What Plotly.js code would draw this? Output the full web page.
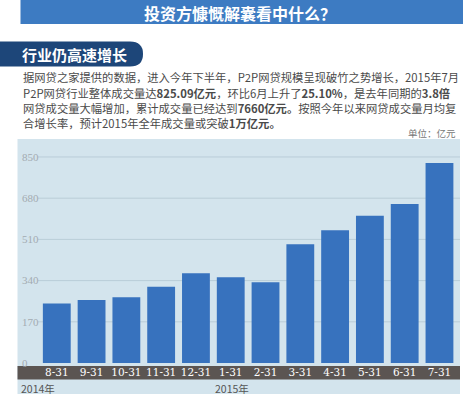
<!DOCTYPE html>
<html><head><meta charset="utf-8">
<script src="https://cdn.plot.ly/plotly-3.0.1.min.js"></script>
<style>html,body{margin:0;padding:0;background:#fff;}#chart{width:463px;height:396px;}</style>
</head><body><div id="chart"></div>
<script>
const categories = ["8-31","9-31","10-31","11-31","12-31","1-31","2-31","3-31","4-31","5-31","6-31","7-31"];
const volumes = [246, 260, 271, 315, 370, 354, 333, 490, 548, 608, 656, 825.09];
const yTicks = [0, 170, 340, 510, 680, 850];
const yearLabels = ["2014年", "2015年"];
const titleText = "投资方慷慨解囊看中什么？";
const sectionText = "行业仍高速增长";
const paragraphLines = [
  "据网贷之家提供的数据，进入今年下半年，P2P网贷规模呈现破竹之势增长，2015年7月",
  "P2P网贷行业整体成交量达<b>825.09亿元</b>，环比6月上升了<b>25.10%</b>，是去年同期的<b>3.8倍</b>",
  "网贷成交量大幅增加，累计成交量已经达到<b>7660亿元。</b>按照今年以来网贷成交量月均复",
  "合增长率，预计2015年全年成交量或突破<b>1万亿元。</b>"
];
const unitText = "单位：亿元";

const W = 463, H = 396, L = 38, R = 3, T = 140, B = 24;
const pw = W - L - R, ph = H - T - B;
const px = x => (x - L) / pw;
const py = y => (H - B - y) / ph;

const cjk = '"Noto Sans CJK SC", "Noto Sans", sans-serif';

const annotations = [];
annotations.push({text: titleText, xref:'paper', yref:'paper', x: px(240), y: py(13), xanchor:'center', yanchor:'middle', showarrow:false,
  font:{family: cjk, size:16, color:'#ffffff', weight: 700}});
annotations.push({text: sectionText, xref:'paper', yref:'paper', x: px(20), y: py(54), xanchor:'left', yanchor:'middle', showarrow:false,
  font:{family: cjk, size:15, color:'#ffffff', weight: 700}});
const lineY = [77, 93, 108, 123];
paragraphLines.forEach((t, i) => {
  annotations.push({text: t, xref:'paper', yref:'paper', x: px(21), y: py(lineY[i]), xanchor:'left', yanchor:'middle', showarrow:false,
    font:{family: cjk, size:11.3, color:'#4a4a4a'}});
});
annotations.push({text: unitText, xref:'paper', yref:'paper', x: px(458), y: py(133), xanchor:'right', yanchor:'middle', showarrow:false,
  font:{family: cjk, size:9.5, color:'#777777'}});
annotations.push({text: yearLabels[0], xref:'paper', yref:'paper', x: px(19), y: py(388), xanchor:'left', yanchor:'middle', showarrow:false,
  font:{family: cjk, size:10.5, color:'#555555'}});
annotations.push({text: yearLabels[1], xref:'paper', yref:'paper', x: px(213), y: py(388), xanchor:'left', yanchor:'middle', showarrow:false,
  font:{family: cjk, size:10.5, color:'#555555'}});

const shapes = [
  {type:'rect', xref:'paper', yref:'paper', x0: px(20.5), x1: px(463), y0: py(24), y1: py(0), fillcolor:'#3d7bc2', line:{width:0}, layer:'below'},
  {type:'path', xref:'paper', yref:'paper', xsizemode:'pixel', ysizemode:'pixel', xanchor: px(0), yanchor: py(54),
   path:'M 0,12.5 L 130,12.5 Q 143,12.5 143,0 Q 143,-12.5 130,-12.5 L 0,-12.5 Z', fillcolor:'#1d4679', line:{width:0}, layer:'below'},
  {type:'rect', xref:'paper', yref:'paper', x0: px(17.5), x1: px(460), y0: py(394), y1: py(139), fillcolor:'#d3e4ed', line:{width:0}, layer:'below'},
  {type:'rect', xref:'paper', yref:'paper', x0: px(17.5), x1: px(460), y0: py(379.5), y1: py(366), fillcolor:'#5b5552', line:{width:0}, layer:'below'}
];
// gridlines at the non-zero ticks
yTicks.filter(v => v > 0).forEach(v => {
  shapes.push({type:'line', xref:'paper', yref:'y', x0:0, x1:1, y0:v, y1:v, line:{color:'#b9cdd8', width:1}, layer:'below'});
});

const data = [{
  type:'bar', x: categories, y: volumes, marker:{color:'#3772be', line:{width:0}},
  hoverinfo:'skip'
}];

const layout = {
  width: W, height: H,
  margin:{l:L, r:R, t:T, b:B, pad:0},
  paper_bgcolor:'#ffffff', plot_bgcolor:'rgba(0,0,0,0)',
  showlegend:false, bargap:0.2,
  xaxis:{type:'category', range:[-0.54, 11.59], showgrid:false, zeroline:false, showline:false, ticks:'', ticklen:0,
    tickfont:{family:'"DejaVu Serif", "Liberation Serif", serif', size:10.5, color:'#ffffff'}, ticklabelstandoff:-8, fixedrange:true},
  yaxis:{range:[-37, 920], tickvals: yTicks, ticktext: yTicks.map(String), showgrid:false,
    zeroline:false, showline:false, ticks:'', ticklabelposition:'inside', ticklabelstandoff:-19,
    tickfont:{family:'"Liberation Serif", "DejaVu Serif", serif', size:11, color:'#a3abb1'}, fixedrange:true},
  shapes: shapes, annotations: annotations
};

Plotly.newPlot('chart', data, layout, {displayModeBar:false, staticPlot:true});
</script></body></html>
